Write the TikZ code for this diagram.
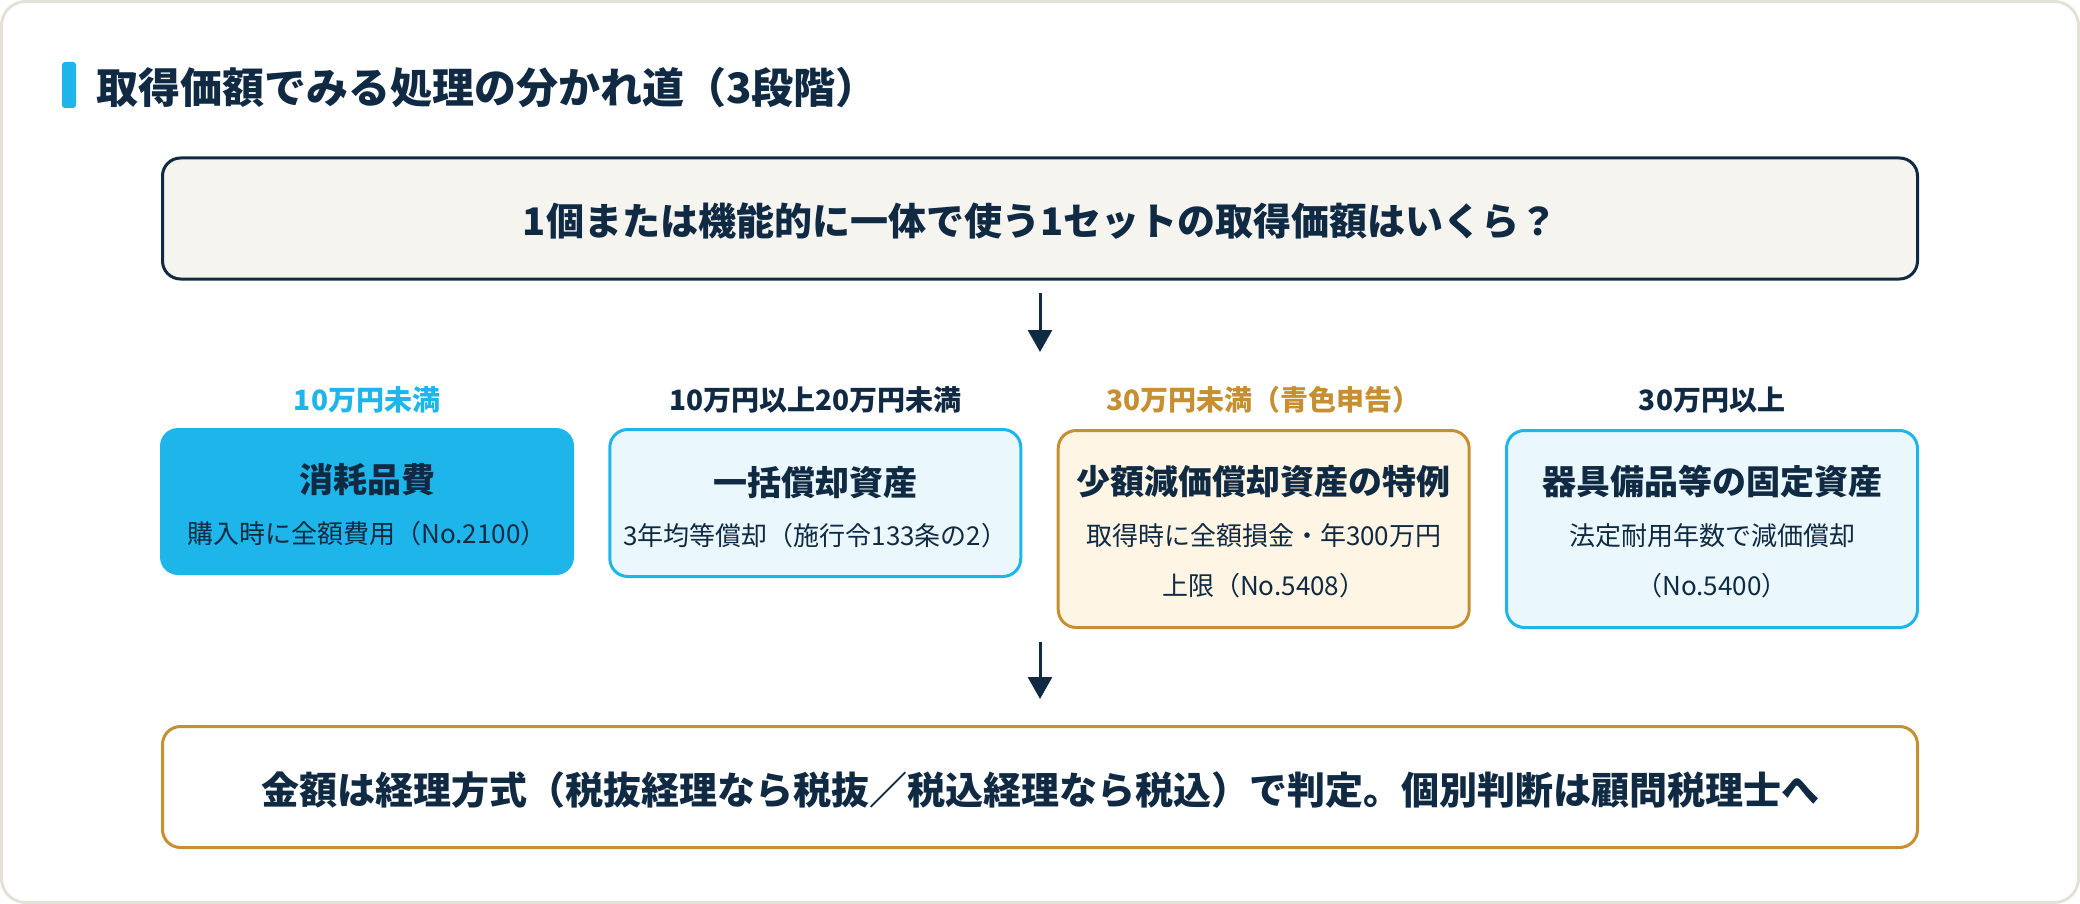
\documentclass[tikz,border=0pt]{standalone}
\usepackage{fontspec}
\setmainfont{Noto Sans CJK JP}
\usetikzlibrary{arrows.meta}
\definecolor{navy}{HTML}{102A43}
\definecolor{cyanA}{HTML}{1EB6EA}
\definecolor{cyanfill}{HTML}{EAF8FD}
\definecolor{goldA}{HTML}{C58F32}
\definecolor{cream}{HTML}{FFF5E4}
\definecolor{qfill}{HTML}{F5F4EF}
\definecolor{cardline}{HTML}{E4E2D8}
\begin{document}
\begin{tikzpicture}[x=1pt,y=-1pt,
  box/.style={rounded corners=18pt, line width=3pt, inner sep=0pt, outer sep=0pt},
  ttl/.style={font=\fontsize{42pt}{50pt}\selectfont\bfseries, text=navy},
  big/.style={font=\fontsize{38pt}{46pt}\selectfont\bfseries, text=navy},
  lbl/.style={font=\fontsize{28pt}{34pt}\selectfont\bfseries},
  btitle/.style={font=\fontsize{34pt}{40pt}\selectfont\bfseries, text=navy},
  body/.style={font=\fontsize{26pt}{50pt}\selectfont, text=navy, align=center},
  arr/.style={draw=navy, line width=3pt, -{Triangle[width=24pt,length=22pt]}}
]
\useasboundingbox (0,0) rectangle (2080,904);
\draw[cardline, line width=3pt, fill=white, rounded corners=24pt] (1.5,1.5) rectangle (2078.5,902.5);

% title
\fill[cyanA, rounded corners=3pt] (62,62) rectangle (76,108);
\node[ttl, anchor=west, inner sep=0pt] (title) at (96,88) {取得価額でみる処理の分かれ道（3段階）};

% question box
\node[box, draw=navy, fill=qfill, minimum width=1755pt, minimum height=121pt] (q) at (1040,218.5) {};
\node[big] (qt) at (1040,221) {1個または機能的に一体で使う1セットの取得価額はいくら？};

\coordinate (a1e) at (1040,352);
\draw[arr, shorten <=14pt] (q.south) -- (a1e);

% labels
\node[lbl, text=cyanA] (l1) at (367,400) {10万円未満};
\node[lbl, text=navy] (l2) at (815.3,400) {10万円以上20万円未満};
\node[lbl, text=goldA] (l3) at (1263.7,400) {30万円未満（青色申告）};
\node[lbl, text=navy] (l4) at (1712,400) {30万円以上};

% column boxes
\node[box, fill=cyanA, minimum width=414pt, minimum height=147pt] (c1) at (367,501.5) {};
\node[box, draw=cyanA, fill=cyanfill, minimum width=411pt, minimum height=147pt] (c2) at (815.3,503) {};
\node[box, draw=goldA, fill=cream, minimum width=411pt, minimum height=197pt] (c3) at (1263.7,529) {};
\node[box, draw=cyanA, fill=cyanfill, minimum width=411pt, minimum height=197pt] (c4) at (1712,529) {};

\node[btitle] (t1) at (367,480) {消耗品費};
\node[body] (d1) at (367,534) {購入時に全額費用（No.2100）};
\node[btitle] (t2) at (815.3,483) {一括償却資産};
\node[body] (d2) at (815.3,536) {3年均等償却（施行令133条の2）};
\node[btitle] (t3) at (1263.7,482) {少額減価償却資産の特例};
\node[body] (d3) at (1263.7,561) {取得時に全額損金・年300万円\\上限（No.5408）};
\node[btitle] (t4) at (1712,482) {器具備品等の固定資産};
\node[body] (d4) at (1712,561) {法定耐用年数で減価償却\\（No.5400）};

% bottom
\node[box, draw=goldA, fill=white, minimum width=1755pt, minimum height=121pt] (f) at (1040,787) {};
\node[big] (ft) at (1040,790) {金額は経理方式（税抜経理なら税抜／税込経理なら税込）で判定。個別判断は顧問税理士へ};

\coordinate (a2s) at (1040,642);
\draw[arr, shorten >=27.5pt] (a2s) -- (f.north);
\end{tikzpicture}
\end{document}
